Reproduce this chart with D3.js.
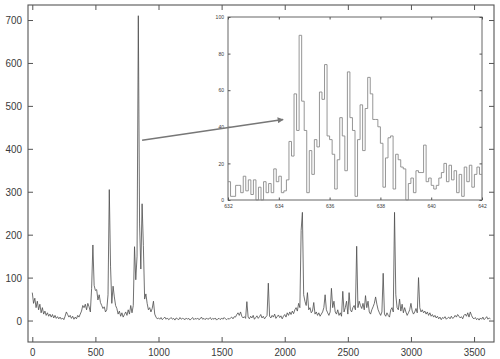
<!DOCTYPE html>
<html><head><meta charset="utf-8">
<script src="https://cdn.jsdelivr.net/npm/d3@7"></script>
<style>body{margin:0;background:#fff}svg{display:block}</style>
</head><body><svg id="c" width="500" height="359"></svg>
<script>
// ---- main spectrum: sampled every 10 units starting at 0 ----
const xStart = 0, xStep = 10;
const mainRows = [
  /*0*/    [65,40,52,30,45,25,38,18,30,15],
  /*100*/  [22,12,18,10,15,8,14,6,12,5],
  /*200*/  [9,4,8,3,6,2,10,20,14,8],
  /*300*/  [12,5,10,3,8,4,12,8,15,22],
  /*400*/  [35,30,38,25,40,32,20,75,176,82],
  /*500*/  [70,72,48,60,42,35,28,32,20,25],
  /*600*/  [60,305,125,40,80,55,35,28,15,22],
  /*700*/  [10,18,8,14,20,12,25,15,35,18],
  /*800*/  [35,172,95,150,710,225,120,272,175,50],
  /*900*/  [62,40,25,30,20,28,45,15,8,4],
  /*1000*/ [6,3,7,2,5,8,3,6,2,4],
  /*1100*/ [7,3,5,1,6,4,2,7,3,5],
  /*1200*/ [4,2,6,3,5,1,4,7,2,5],
  /*1300*/ [3,6,2,4,8,3,5,2,6,3],
  /*1400*/ [4,7,2,5,3,6,1,4,5,2],
  /*1500*/ [6,3,7,4,2,5,3,6,8,4],
  /*1600*/ [9,8,14,18,12,20,10,6,9,5],
  /*1700*/ [44,8,4,10,6,12,3,7,11,5],
  /*1800*/ [9,14,6,10,4,8,12,87,10,6],
  /*1900*/ [12,8,15,5,9,13,7,11,4,10],
  /*2000*/ [14,8,18,12,20,14,22,16,25,30],
  /*2100*/ [22,40,30,210,252,60,45,35,65,25],
  /*2200*/ [30,18,22,42,15,20,12,18,10,15],
  /*2300*/ [20,30,60,25,18,12,20,75,30,45],
  /*2400*/ [20,15,25,12,18,10,68,20,30,45],
  /*2500*/ [15,65,25,20,30,35,25,173,30,45],
  /*2600*/ [35,28,40,25,58,30,45,20,15,25],
  /*2700*/ [32,40,55,38,25,18,12,20,110,15],
  /*2800*/ [10,18,12,8,25,30,20,252,60,30],
  /*2900*/ [25,50,22,38,18,30,20,12,18,25],
  /*3000*/ [40,22,15,20,28,18,100,30,20,25],
  /*3100*/ [18,22,15,20,12,18,10,14,8,12],
  /*3200*/ [6,10,4,8,2,7,5,9,3,6],
  /*3300*/ [8,4,10,5,7,12,8,14,10,6],
  /*3400*/ [9,4,12,15,10,18,8,20,12,6],
  /*3500*/ [4,7,2,5,1,6,3,8,2,5],
  /*3600*/ [9,3,6,4]
];
const mainValues = mainRows.flat();
const xTicks = [0,500,1000,1500,2000,2500,3000,3500];
const yTicks = [0,100,200,300,400,500,600,700];

// ---- inset histogram: bins of 0.1 from 632 ----
const insetStart = 632, insetStep = 0.1;
const insetValues = [
  10,2,2,8,8,4,13,5,11,3,
  11,0,7,0,10,4,9,4,17,10,
  13,4,5,11,32,24,58,38,90,54,
  38,4,27,14,33,29,59,55,74,35,
  33,25,6,22,45,35,16,70,45,38,
  2,33,52,27,50,67,58,44,44,40,
  31,7,23,34,35,6,25,22,18,17,
  0,9,12,4,16,15,15,30,10,12,
  8,6,8,12,15,20,10,19,11,16,
  4,14,2,18,10,19,7,14,18,14
];
const insetXTicks = [632,634,636,638,640,642];
const insetYTicks = [0,20,40,60,80,100];
// arrow: from main-chart point to inset point
const arrowFrom = [870, 420], arrowTo = [634.17, 44];

const svg = d3.select("#c");
const frameCol = "#555", textCol = "#3a3a3a";
const fmt = d3.format("d");

const x = d3.scaleLinear().domain([-34, 3658]).range([28, 494]);
const y = d3.scaleLinear().domain([-50, 735]).range([342, 5]);

function styleAxis(g, showText, fs, perDigit) {
  g.select(".domain").remove();
  g.selectAll(".tick line").attr("stroke", frameCol).attr("stroke-width", 1);
  if (!showText) g.selectAll(".tick text").remove();
  else g.selectAll(".tick text")
    .attr("fill", textCol).style("font-family", "'Liberation Sans', Arial, sans-serif")
    .style("font-size", fs + "px")
    .attr("textLength", d => String(d).length * perDigit)
    .attr("lengthAdjust", "spacingAndGlyphs");
}

// main frame
svg.append("rect").attr("x", 28).attr("y", 5).attr("width", 466).attr("height", 337)
  .attr("fill", "#fff").attr("stroke", frameCol).attr("stroke-width", 1.1);

svg.append("g").attr("transform", "translate(0,342)")
  .call(d3.axisBottom(x).tickValues(xTicks).tickFormat(fmt).tickSizeInner(-5).tickSizeOuter(0).tickPadding(6))
  .call(g => styleAxis(g, true, 11, 5.4));
svg.append("g").attr("transform", "translate(0,5)")
  .call(d3.axisTop(x).tickValues(xTicks).tickSizeInner(-5).tickSizeOuter(0))
  .call(g => styleAxis(g, false));
svg.append("g").attr("transform", "translate(28,0)")
  .call(d3.axisLeft(y).tickValues(yTicks).tickFormat(fmt).tickSizeInner(-5).tickSizeOuter(0).tickPadding(6))
  .call(g => styleAxis(g, true, 11, 5.5));
svg.append("g").attr("transform", "translate(494,0)")
  .call(d3.axisRight(y).tickValues(yTicks).tickSizeInner(-5).tickSizeOuter(0))
  .call(g => styleAxis(g, false));

// main line
const line = d3.line().x((d, i) => x(xStart + i * xStep)).y(d => y(d));
svg.append("path").datum(mainValues).attr("d", line)
  .attr("fill", "none").attr("stroke", "#4d4d4d").attr("stroke-width", 0.8)
  .attr("stroke-linejoin", "round");

// inset
const ix = d3.scaleLinear().domain([632, 642]).range([228, 482]);
const iy = d3.scaleLinear().domain([0, 100]).range([200, 17]);
svg.append("rect").attr("x", 228).attr("y", 17).attr("width", 254).attr("height", 183)
  .attr("fill", "#fff").attr("stroke", "#666").attr("stroke-width", 1);

svg.append("g").attr("transform", "translate(0,200)")
  .call(d3.axisBottom(ix).tickValues(insetXTicks).tickFormat(fmt).tickSizeInner(-2.5).tickSizeOuter(0).tickPadding(4))
  .call(g => styleAxis(g, true, 5, 2.8));
svg.append("g").attr("transform", "translate(0,17)")
  .call(d3.axisTop(ix).tickValues(insetXTicks).tickSizeInner(-2.5).tickSizeOuter(0))
  .call(g => styleAxis(g, false));
svg.append("g").attr("transform", "translate(228,0)")
  .call(d3.axisLeft(iy).tickValues(insetYTicks).tickFormat(fmt).tickSizeInner(-2.5).tickSizeOuter(0).tickPadding(4))
  .call(g => styleAxis(g, true, 5, 2.8));
svg.append("g").attr("transform", "translate(482,0)")
  .call(d3.axisRight(iy).tickValues(insetYTicks).tickSizeInner(-2.5).tickSizeOuter(0))
  .call(g => styleAxis(g, false));

const histPts = insetValues.map((v, i) => [insetStart + i * insetStep, v]);
histPts.push([insetStart + insetValues.length * insetStep, insetValues[insetValues.length - 1]]);
const stepLine = d3.line().curve(d3.curveStepAfter).x(d => ix(d[0])).y(d => iy(d[1]));
svg.append("path").datum(histPts).attr("d", stepLine)
  .attr("fill", "none").attr("stroke", "#8a8a8a").attr("stroke-width", 0.9);

// arrow
svg.append("defs").append("marker").attr("id", "ah")
  .attr("viewBox", "0 0 10 10").attr("refX", 9).attr("refY", 5)
  .attr("markerWidth", 8).attr("markerHeight", 6).attr("markerUnits", "userSpaceOnUse")
  .attr("orient", "auto")
  .append("path").attr("d", "M0,0 L10,5 L0,10 Z").attr("fill", "#777");
svg.append("line")
  .attr("x1", x(arrowFrom[0])).attr("y1", y(arrowFrom[1]))
  .attr("x2", ix(arrowTo[0])).attr("y2", iy(arrowTo[1]))
  .attr("stroke", "#777").attr("stroke-width", 1.5).attr("marker-end", "url(#ah)");
</script></body></html>
